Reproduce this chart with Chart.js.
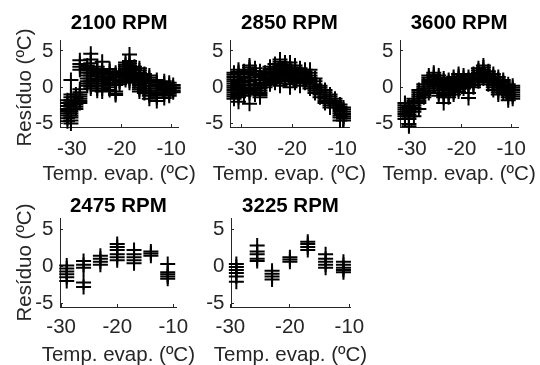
<!DOCTYPE html>
<html><head><meta charset="utf-8">
<script src="https://cdn.jsdelivr.net/npm/chart.js@4"></script>
<style>
html,body{margin:0;padding:0;background:#fff;overflow:hidden;width:540px;height:365px;position:relative}
canvas{position:absolute}
</style>
</head><body>
<script>
// ---- tick labels & texts ----
const xTicks = [-30, -20, -10];
const yTicks = [-5, 0, 5];
const yLabel = 'Resíduo (ºC)';
const xLabel = 'Temp. evap. (ºC)';

// ---- 2100 RPM ----
const temp2100 = [-30.9, -30.2, -29.2, -28.4, -26.9, -26.2, -24.9, -23.9, -22.4, -21.2, -20.4, -19.2, -18.4, -17.4, -16.4, -15.4, -14.4, -12.9, -11.4, -10.4, -9.6];
const res2100 = [
  [-1.8, -2.2, -2.6, -3.0, -3.3, -3.6, -3.9, -4.3, -4.7],
  [1.0, -1.0, -1.4, -1.8, -2.1, -2.4, -2.7, -3.0, -3.3, -3.6, -3.9, -4.2, -4.6, -5.0],
  [-1.0, -1.4, -1.8, -2.1, -2.4, -2.7, -3.0],
  [3.7, 3.2, 2.8, 2.4, -0.3, -0.7, -1.0, -1.3, -1.6, -1.9, -2.2],
  [3.0, 2.6, 2.3, 2.0, 1.6, 1.2, 0.8, 0.5, 0.2],
  [4.6, 3.8, 3.3, 2.8, 2.4, 2.0, 1.6, 1.2, 0.8, 0.5, 0.1, -0.2],
  [2.8, 2.5, 2.2, 1.8, 1.5, 1.1, 0.8, 0.5, 0.2, -0.2, -0.5],
  [3.5, 2.3, 2.0, 1.7, 1.4, 1.1, 0.8, 0.5, 0.2, -0.2, -0.6],
  [2.5, 2.2, 1.8, 1.5, 1.2, 0.9, 0.6, 0.3, 0.0, -0.4],
  [2.0, 1.7, 1.4, 1.0, 0.6, 0.3, -0.6, -0.9, -1.1],
  [2.2, 1.9, 1.6, 1.3, 1.0, 0.7, 0.4],
  [3.4, 3.1, 2.8, 2.5, 2.2, 1.9, 1.6, 1.3, 1.0],
  [4.5, 3.6, 3.3, 3.0, 2.7, 2.4, 2.1, 1.8, 1.5, 1.2, 0.9, 0.6],
  [2.8, 2.4, 2.0, 1.7, 1.4, 1.1, 0.8],
  [2.6, 2.3, 2.0, 1.6, 1.2, 0.9, 0.6, 0.3, 0.0, -0.3, -0.6],
  [1.8, 1.5, 1.2, 0.8, 0.5, 0.2, -0.2, -0.5, -0.8],
  [1.6, 1.3, 1.0, 0.6, 0.2, -0.2, -0.5, -0.9, -1.2, -1.6],
  [1.0, 0.7, 0.4, 0.1, -0.2, -0.5, -0.8, -1.1, -1.4, -1.9],
  [0.8, 0.5, 0.2, -0.1, -0.4, -0.7, -1.0, -1.5],
  [0.6, 0.3, 0.0, -0.3, -0.6, -0.9, -1.2],
  [0.3, 0.0, -0.2, -0.5, -0.7]
];

// ---- 2850 RPM ----
const temp2850 = [-31.6, -30.7, -29.6, -28.5, -27.4, -26.4, -25.4, -24.4, -23.4, -22.4, -21.4, -20.4, -19.4, -18.4, -17.4, -16.4, -15.4, -14.4, -13.4, -12.4, -11.4, -10.4, -9.7];
const res2850 = [
  [2.0, 1.7, 1.4, 1.1, 0.8, 0.5, 0.2, -0.1, -0.4, -0.7, -1.0, -1.3, -1.6],
  [2.4, 2.1, 1.8, 1.4, 1.0, 0.7, 0.4, 0.1, -0.2, -0.5, -0.8, -1.1, -1.4, -2.0],
  [2.2, 1.8, 1.5, 1.2, 0.9, 0.6, 0.3, 0.0, -0.3, -0.6, -0.9, -1.2],
  [3.0, 2.7, 2.4, 2.1, 1.8, 1.3, 0.8, 0.3, -0.2, -0.5, -0.8, -2.3],
  [2.6, 2.2, 1.6, 1.0, 0.4, 0.0, -0.4, -0.7, -1.0],
  [2.2, 1.8, 1.4, 1.0, 0.6, 0.2, -0.2, -0.5, -0.8, -1.1, -1.4],
  [2.0, 1.6, 1.2, 0.9, 0.6, 0.3, 0.0],
  [2.8, 2.5, 2.2, 1.9, 1.6, 1.3, 1.0, 0.7, 0.4],
  [3.2, 2.8, 2.4, 2.1, 1.8, 1.5, 1.2, 0.9, 0.6],
  [3.8, 3.5, 3.2, 2.9, 2.6, 2.3, 2.0, 1.7, 1.4, 1.1, 0.8, 0.5, 0.2],
  [3.4, 3.1, 2.8, 2.5, 2.2, 1.9, 1.6, 1.3, 1.0],
  [3.4, 3.0, 2.6, 2.3, 2.0, 1.7, 1.4, 1.1, 0.8, 0.4, 0.0],
  [3.0, 2.7, 2.4, 2.1, 1.8, 1.5, 1.2, 0.9, 0.6],
  [2.6, 2.3, 2.0, 1.7, 1.4, 1.1, 0.8, 0.5, 0.2],
  [2.4, 2.1, 1.8, 1.5, 1.2, 0.9, 0.6],
  [2.4, 2.0, 1.6, 1.3, 1.0, 0.7, 0.4, 0.1, -0.2],
  [1.2, 0.8, 0.4, 0.1, -0.2, -0.5, -0.8],
  [0.2, -0.1, -0.4, -0.7, -1.0, -1.4],
  [-0.4, -0.7, -1.0, -1.3, -1.6, -1.9, -2.2],
  [-1.0, -1.3, -1.6, -1.9, -2.2, -2.5, -2.8],
  [-1.6, -1.9, -2.2, -2.5, -2.8],
  [-2.4, -2.7, -3.0, -3.3, -3.6, -3.9, -4.2, -4.6],
  [-2.8, -3.1, -3.4, -3.7, -4.0, -4.3, -4.6]
];

// ---- 3600 RPM ----
const temp3600 = [-31.4, -30.6, -29.6, -28.6, -27.6, -26.6, -25.6, -24.6, -23.6, -22.6, -21.6, -20.6, -19.6, -18.6, -17.6, -16.6, -15.6, -14.6, -13.6, -12.6, -11.6, -10.6, -9.7];
const res3600 = [
  [-2.2, -2.5, -2.8, -3.1, -3.4, -3.7, -4.0, -4.4],
  [-2.6, -2.9, -3.2, -3.5, -3.8, -4.1, -4.4, -5.1, -5.4],
  [-1.6, -1.9, -2.2, -2.5, -2.8, -3.1, -3.4, -4.0],
  [-0.4, -0.7, -1.0, -1.3, -1.6, -1.9, -2.2, -3.0],
  [0.4, 0.1, -0.2, -0.5, -0.8, -1.1, -1.4],
  [1.6, 1.3, 1.0, 0.7, 0.4, 0.1, -0.2, -0.5, -0.8],
  [2.0, 1.7, 1.4, 1.1, 0.8, 0.5, 0.2],
  [1.6, 1.3, 1.0, 0.7, 0.4, 0.1, -0.2, -0.5, -0.8, -1.2],
  [1.2, 0.9, 0.6, 0.3, 0.0, -0.4, -0.8, -1.1, -1.4, -2.2],
  [1.0, 0.7, 0.4, 0.1, -0.2, -0.5, -0.8, -1.1, -1.4],
  [1.4, 1.1, 0.8, 0.5, 0.2, -0.1, -0.4, -0.7, -1.0],
  [1.8, 1.5, 1.2, 0.9, 0.6, 0.3, 0.0, -0.3, -0.6],
  [1.6, 1.3, 1.0, 0.7, 0.4, 0.1, -0.2],
  [1.4, 1.1, 0.8, 0.5, 0.2, -0.8, -1.5],
  [1.8, 1.5, 1.2, 0.9, 0.6, 0.3, 0.0],
  [2.6, 2.3, 2.0, 1.7, 1.4, 1.1, 0.8],
  [3.0, 2.7, 2.4, 2.1, 1.8, 1.5, 1.2],
  [2.2, 1.9, 1.6, 1.3, 1.0, 0.7, 0.4],
  [1.8, 1.5, 1.2, 0.9, 0.6, 0.3, 0.0, -0.4],
  [1.4, 1.1, 0.8, 0.5, 0.2, -0.1, -0.4, -0.7, -1.0],
  [1.0, 0.7, 0.4, 0.1, -0.2, -0.5, -0.8],
  [0.4, 0.1, -0.2, -0.5, -0.8, -1.1, -1.4, -1.8],
  [0.2, -0.1, -0.4, -0.7, -1.0, -1.3, -1.6]
];

// ---- 2475 RPM ----
const temp2475 = [-29.0, -26.0, -23.0, -20.0, -17.0, -14.0, -11.0];
const res2475 = [
  [0.1, -0.3, -0.7, -1.1, -1.5, -2.0],
  [0.7, 0.2, -0.2, -2.2, -2.8],
  [1.4, 1.0, 0.6, 0.2],
  [3.0, 2.6, 2.2, 1.6, 1.2, 0.8],
  [2.2, 1.6, 1.2, 0.8, 0.4],
  [2.0, 1.7, 1.4],
  [0.3, -0.8, -1.1, -1.4, -1.7]
];

// ---- 3225 RPM ----
const temp3225 = [-29.0, -25.5, -23.0, -20.0, -17.0, -14.0, -11.0];
const res3225 = [
  [0.3, -0.1, -0.5, -0.9, -1.4, -2.1],
  [2.8, 2.0, 1.6, 1.0, 0.7],
  [-0.6, -1.0, -1.4, -1.8],
  [1.2, 0.9, 0.6],
  [3.3, 3.0, 2.6, 2.2],
  [1.6, 1.0, 0.6, 0.2, -0.2],
  [0.6, 0.2, -0.2, -0.5, -0.8]
];

const FONT = '"Liberation Sans", Arial, Helvetica, sans-serif';
const FS = 20.5;
const AX = '#262626';

function points(temps, res) {
  const out = [];
  temps.forEach((t, i) => res[i].forEach(v => out.push({x: t, y: v})));
  return out;
}

// axis titles drawn at their natural width (Chart.js would squeeze them to the axis length)
const axisLabels = {
  id: 'axisLabels',
  afterDraw(chart, args, o) {
    const ctx = chart.ctx, a = chart.chartArea;
    ctx.save();
    ctx.fillStyle = AX;
    ctx.font = FS + 'px ' + FONT;
    ctx.textAlign = 'center';
    ctx.textBaseline = 'middle';
    ctx.fillText(o.xText, (a.left + a.right) / 2, o.xY);
    if (o.yText) {
      ctx.translate(o.yX, (a.top + a.bottom) / 2 + o.yShift);
      ctx.rotate(-Math.PI / 2);
      ctx.fillText(o.yText, 0, 0);
    }
    ctx.restore();
  }
};

function panel(p) {
  const c = document.createElement('canvas');
  c.width = p.w; c.height = p.h;
  c.style.left = p.left + 'px'; c.style.top = p.top + 'px';
  c.style.width = p.w + 'px'; c.style.height = p.h + 'px';
  document.body.appendChild(c);
  const areaTop = p.at - p.top, areaBot = p.ab - p.top, areaLeft = p.al - p.left, areaRight = p.ar - p.left;
  new Chart(c, {
    type: 'scatter',
    data: { datasets: [{
      data: points(p.temps, p.res),
      pointStyle: 'cross', pointRadius: 7.5, pointHoverRadius: 7.5,
      borderColor: '#000', backgroundColor: '#000', pointBorderWidth: 2,
      showLine: false, clip: false
    }]},
    plugins: [axisLabels],
    options: {
      responsive: false, animation: false, events: [],
      devicePixelRatio: 1,
      layout: { padding: { left: 0, top: 0, bottom: 0, right: p.w - areaRight } },
      plugins: {
        legend: { display: false }, tooltip: { enabled: false },
        title: {
          display: true, text: p.title, color: '#000', fullSize: false,
          font: { family: FONT, size: FS, weight: 'bold', lineHeight: 1 },
          padding: { top: p.tpad, bottom: areaTop - p.tpad - FS }
        },
        axisLabels: {
          xText: xLabel, xY: p.xTitleY - p.top,
          yText: p.ytitle ? yLabel : null, yX: 25, yShift: p.yShift
        }
      },
      scales: {
        x: {
          type: 'linear', position: 'bottom', min: p.xmin, max: p.xmax,
          afterBuildTicks: s => { s.ticks = xTicks.map(v => ({value: v})); },
          afterFit: s => { s.height = p.h - areaBot; },
          ticks: { color: AX, font: { family: FONT, size: FS, lineHeight: 1.2 }, padding: p.xpad, maxRotation: 0, autoSkip: false },
          grid: { drawOnChartArea: false, drawTicks: true, tickLength: -3, color: AX, tickColor: AX, tickWidth: 1 },
          border: { display: true, color: AX, width: 1 },
          title: { display: false }
        },
        y: {
          type: 'linear', position: 'left', min: -5.5, max: 6.5,
          afterBuildTicks: s => { s.ticks = yTicks.map(v => ({value: v})); },
          afterFit: s => { s.width = areaLeft; },
          ticks: { color: AX, font: { family: FONT, size: FS, lineHeight: 1.2 }, padding: 9.5 },
          grid: { drawOnChartArea: false, drawTicks: true, tickLength: -3, color: AX, tickColor: AX, tickWidth: 1 },
          border: { display: true, color: AX, width: 1 },
          title: { display: false }
        }
      }
    }
  });
}

const topX = [-32.4, -8.6];
panel({ left: 0,   top: 0, w: 200, h: 190, al: 60,  ar: 179, at: 40, ab: 127, xmin: topX[0], xmax: topX[1],
        title: '2100 RPM', ytitle: true,  yShift: 4, tpad: 13, xpad: 12.7, xTitleY: 174, temps: temp2100, res: res2100 });
panel({ left: 190, top: 0, w: 190, h: 190, al: 230, ar: 349, at: 40, ab: 127, xmin: topX[0], xmax: topX[1],
        title: '2850 RPM', ytitle: false, yShift: 0, tpad: 13, xpad: 12.7, xTitleY: 174, temps: temp2850, res: res2850 });
panel({ left: 360, top: 0, w: 180, h: 190, al: 400, ar: 519, at: 40, ab: 127, xmin: topX[0], xmax: topX[1],
        title: '3600 RPM', ytitle: false, yShift: 0, tpad: 13, xpad: 12.7, xTitleY: 174, temps: temp3600, res: res3600 });
panel({ left: 0,   top: 185, w: 200, h: 180, al: 60,  ar: 180, at: 218, ab: 307, xmin: -30.2, xmax: -9.4,
        title: '2475 RPM', ytitle: true,  yShift: 0, tpad: 11.4, xpad: 11.2, xTitleY: 355, temps: temp2475, res: res2475 });
panel({ left: 190, top: 185, w: 190, h: 180, al: 231, ar: 350, at: 218, ab: 307, xmin: -29.9, xmax: -9.9,
        title: '3225 RPM', ytitle: false, yShift: 0, tpad: 11.4, xpad: 11.2, xTitleY: 355, temps: temp3225, res: res3225 });
</script>
</body></html>
